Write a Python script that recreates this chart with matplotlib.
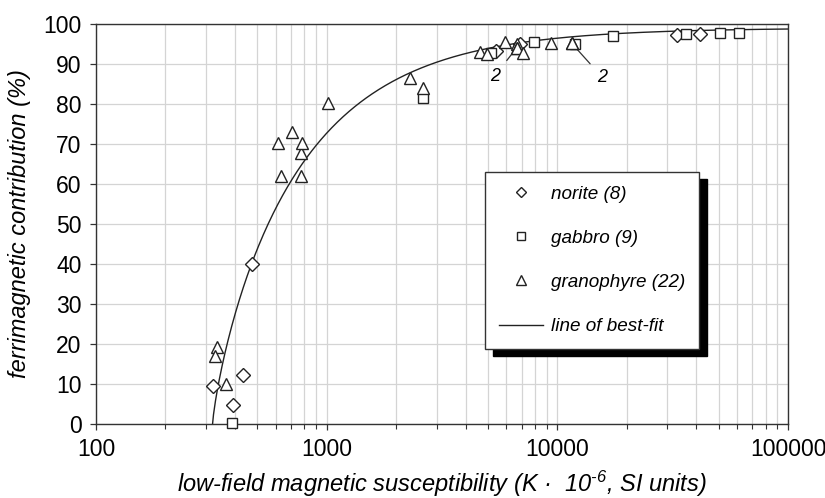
import numpy as np
import matplotlib
matplotlib.use("Agg")
import matplotlib.pyplot as plt
from matplotlib.ticker import LogLocator, NullFormatter

plt.rcParams['font.family'] = ['Liberation Sans', 'DejaVu Sans']
plt.rcParams['mathtext.fontset'] = 'custom'
plt.rcParams['mathtext.rm'] = 'Liberation Sans:italic'
plt.rcParams['mathtext.it'] = 'Liberation Sans:italic'

# norite (diamonds)
norite_k = [320, 392, 435, 473, 5400, 6875, 33100, 41550]
norite_f = [9.6, 4.8, 12.3, 40.0, 93.2, 95.0, 97.2, 97.6]

# gabbro (squares)
gabbro_k = [387, 2618, 5150, 7950, 11980, 17340, 36070, 50500, 61200]
gabbro_f = [0.3, 81.4, 92.8, 95.5, 95.0, 96.9, 97.6, 97.8, 97.8]

# granophyre (triangles)
grano_k = [334, 328, 365, 612, 634, 705, 771, 784, 771, 1016, 2301, 2618,
           4635, 4963, 5911, 6650, 6714, 6714, 7114, 9400, 11580, 11580]
grano_f = [19.3, 17.0, 10.0, 70.2, 62.1, 73.1, 67.8, 70.2, 62.1, 80.2, 86.6, 83.9,
           92.9, 92.4, 95.5, 95.0, 94.0, 94.0, 92.7, 95.2, 95.2, 95.2]

# best-fit: f = A * (1 - K0/K)^p
fit_A = 99.0
fit_K0 = 320.0
fit_p = 0.8

fig = plt.figure(figsize=(8.25, 4.98), dpi=100)
ax = fig.add_axes([0.1164, 0.1486, 0.8388, 0.8032])

kk = np.logspace(np.log10(fit_K0), 5, 600)
ff = fit_A * np.clip(1 - fit_K0 / kk, 0, None) ** fit_p
ax.plot(kk, ff, color='#222222', lw=1.0, label='line of best-fit', zorder=3)

ax.plot(norite_k, norite_f, ls='none', marker='D', ms=7.0, mfc='white', mec='#222222',
        mew=1.0, label='norite (8)', clip_on=False, zorder=4)
ax.plot(gabbro_k, gabbro_f, ls='none', marker='s', ms=7.2, mfc='white', mec='#222222',
        mew=1.0, label='gabbro (9)', clip_on=False, zorder=4)
ax.plot(grano_k, grano_f, ls='none', marker='^', ms=8.2, mfc='white', mec='#222222',
        mew=1.0, label='granophyre (22)', clip_on=False, zorder=4)

# "2" annotations for overlapping points
ax.annotate('2', xy=(6650, 94.0), xytext=(5350, 87.0), fontsize=13, style='italic',
            ha='center', va='center',
            arrowprops=dict(arrowstyle='-', color='#333333', lw=0.9, shrinkA=5, shrinkB=2))
ax.annotate('2', xy=(11780, 94.6), xytext=(15700, 86.6), fontsize=13, style='italic',
            ha='center', va='center',
            arrowprops=dict(arrowstyle='-', color='#333333', lw=0.9, shrinkA=5, shrinkB=2))

ax.set_xscale('log')
ax.set_xlim(100, 100000)
ax.set_ylim(0, 100)
ax.set_yticks(range(0, 101, 10))
ax.set_xticks([100, 1000, 10000, 100000])
ax.set_xticklabels(['100', '1000', '10000', '100000'])
ax.xaxis.set_minor_locator(LogLocator(base=10, subs=np.arange(2, 10)))
ax.xaxis.set_minor_formatter(NullFormatter())

ax.grid(True, which='major', color='#d4d4d4', lw=0.9)
ax.grid(True, which='minor', axis='x', color='#d4d4d4', lw=0.9)
ax.set_axisbelow(True)

for s in ax.spines.values():
    s.set_color('#333333')
    s.set_linewidth(1.0)

ax.tick_params(axis='both', which='major', labelsize=16.5, length=4, width=0.9,
               color='#333333', direction='out')
ax.tick_params(axis='y', which='major', pad=6.5)
ax.tick_params(axis='x', which='major', pad=6)
ax.tick_params(axis='x', which='minor', length=3.3, width=0.8, color='#333333')

ax.set_xlabel('low-field magnetic susceptibility (K ·  10$^{\u2010 6}$, SI units)',
              fontsize=17, style='italic', labelpad=6)
ax.set_ylabel('ferrimagnetic contribution (%)', fontsize=17, style='italic', labelpad=9)

handles, labels = ax.get_legend_handles_labels()
order = [1, 2, 3, 0]
leg = ax.legend([handles[i] for i in order], [labels[i] for i in order],
                loc='upper left', bbox_to_anchor=(0.562, 0.631),
                prop={'style': 'italic', 'size': 13.6},
                frameon=True, fancybox=False, edgecolor='#333333', framealpha=1,
                markerscale=0.8, labelspacing=1.42, handlelength=2.3,
                handletextpad=0.45, borderpad=0.75, borderaxespad=0,
                shadow={'ox': 5.5, 'oy': -5, 'color': 'black', 'alpha': 1})
leg.get_frame().set_linewidth(1.0)

fig.savefig('out.png', dpi=100)
